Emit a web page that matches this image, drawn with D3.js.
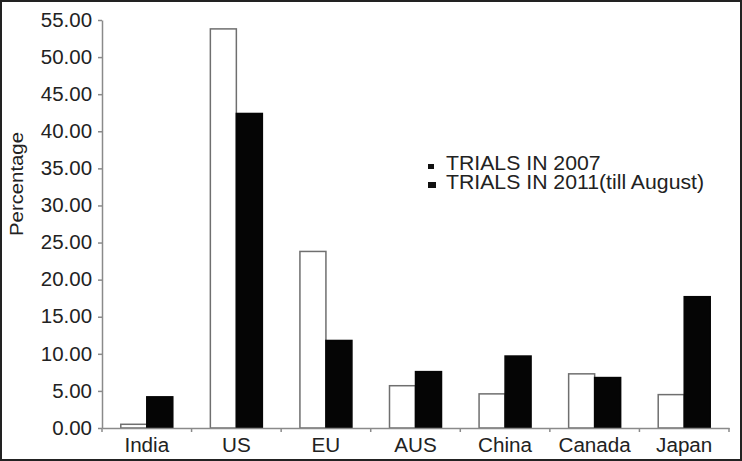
<!DOCTYPE html>
<html lang="en">
<head>
<meta charset="UTF-8">
<script src="https://d3js.org/d3.v7.min.js"></script>
<style>
  html, body { margin: 0; padding: 0; background: #fff; overflow: hidden; }
  svg { display: block; font-family: "Liberation Sans", Arial, sans-serif; }
</style>
</head>
<body>
<svg id="chart" width="742" height="461"></svg>
<script>
// chart data
const categories = ["India", "US", "EU", "AUS", "China", "Canada", "Japan"];
const seriesNames = ["TRIALS IN 2007", "TRIALS IN 2011(till August)"];
const trials2007 = [0.5, 53.8, 23.8, 5.7, 4.6, 7.3, 4.5];
const trials2011 = [4.2, 42.4, 11.8, 7.6, 9.7, 6.8, 17.7];
const yTicks = [0, 5, 10, 15, 20, 25, 30, 35, 40, 45, 50, 55];

const svg = d3.select("#chart");
const W = 742, H = 461;
const margin = {top: 20, right: 13, bottom: 33, left: 102};
const width = W - margin.left - margin.right,
      height = H - margin.top - margin.bottom;

// outer frame
svg.append("rect")
  .attr("x", 1).attr("y", 1)
  .attr("width", W - 2).attr("height", H - 2)
  .attr("fill", "#fff").attr("stroke", "#222").attr("stroke-width", 2);

const g = svg.append("g").attr("transform", `translate(${margin.left},${margin.top})`);

const x = d3.scaleBand().domain(categories).range([0, width]).padding(0);
const sub = d3.scaleBand().domain([0, 1]).range([0, 52]);
const y = d3.scaleLinear().domain([0, 55]).range([height, 0]);

// bars
const barData = categories.map((c, i) => ({cat: c, vals: [trials2007[i], trials2011[i]]}));
const groups = g.selectAll(".grp").data(barData).enter().append("g")
  .attr("transform", d => `translate(${x(d.cat) + (x.bandwidth() - 52) / 2},0)`);

groups.selectAll("rect").data(d => d.vals).enter().append("rect")
  .attr("x", (d, i) => sub(i))
  .attr("y", d => y(d))
  .attr("width", sub.bandwidth())
  .attr("height", d => height - y(d))
  .attr("fill", (d, i) => i === 0 ? "#fff" : "#050505")
  .attr("stroke", (d, i) => i === 0 ? "#6f6f6f" : "#050505")
  .attr("stroke-width", 1.5);

// y axis
const yAxis = g.append("g").call(d3.axisLeft(y).tickValues(yTicks).tickFormat(d3.format(".2f")).tickSize(4).tickSizeOuter(0));
yAxis.select(".domain").attr("stroke", "#8a8a8a").attr("stroke-width", 1.5);
yAxis.selectAll(".tick line").attr("stroke", "#8a8a8a").attr("stroke-width", 1.5);
yAxis.selectAll(".tick text").attr("fill", "#222").attr("font-size", 19.5)
  .attr("x", -10 / 1.05).attr("transform", "scale(1.05,1)");

// x axis
const xAxis = g.append("g").attr("transform", `translate(0,${height})`)
  .call(d3.axisBottom(x).tickSize(0).tickSizeOuter(0));
xAxis.select(".domain").attr("stroke", "#8a8a8a").attr("stroke-width", 1.5);
xAxis.selectAll(".tick text").attr("fill", "#222").attr("font-size", 19.5)
  .attr("dy", 0).attr("y", 24).attr("transform", "scale(1.06,1)");
// category separators
xAxis.selectAll(".sep").data(categories.concat(["end"])).enter().append("line")
  .attr("x1", (d, i) => i * x.step()).attr("x2", (d, i) => i * x.step())
  .attr("y1", 0).attr("y2", 4)
  .attr("stroke", "#8a8a8a").attr("stroke-width", 1.5);

// y label
svg.append("text")
  .attr("transform", "translate(23,184) rotate(-90) scale(1.07,1)")
  .attr("text-anchor", "middle")
  .attr("fill", "#222").attr("font-size", 19)
  .text("Percentage");

// legend
const leg = svg.append("g").attr("transform", "translate(428,170)");
seriesNames.forEach((s, i) => {
  const w = i === 0 ? 6 : 8, h = i === 0 ? 5 : 6;
  leg.append("rect").attr("x", 0).attr("y", i * 19 - 6 - (h - 5)).attr("width", w).attr("height", h).attr("fill", "#111");
  leg.append("text").attr("transform", `translate(18,${i * 19}) scale(1.09,1)`)
    .attr("fill", "#222").attr("font-size", 19.5).text(s);
});
</script>
</body>
</html>
